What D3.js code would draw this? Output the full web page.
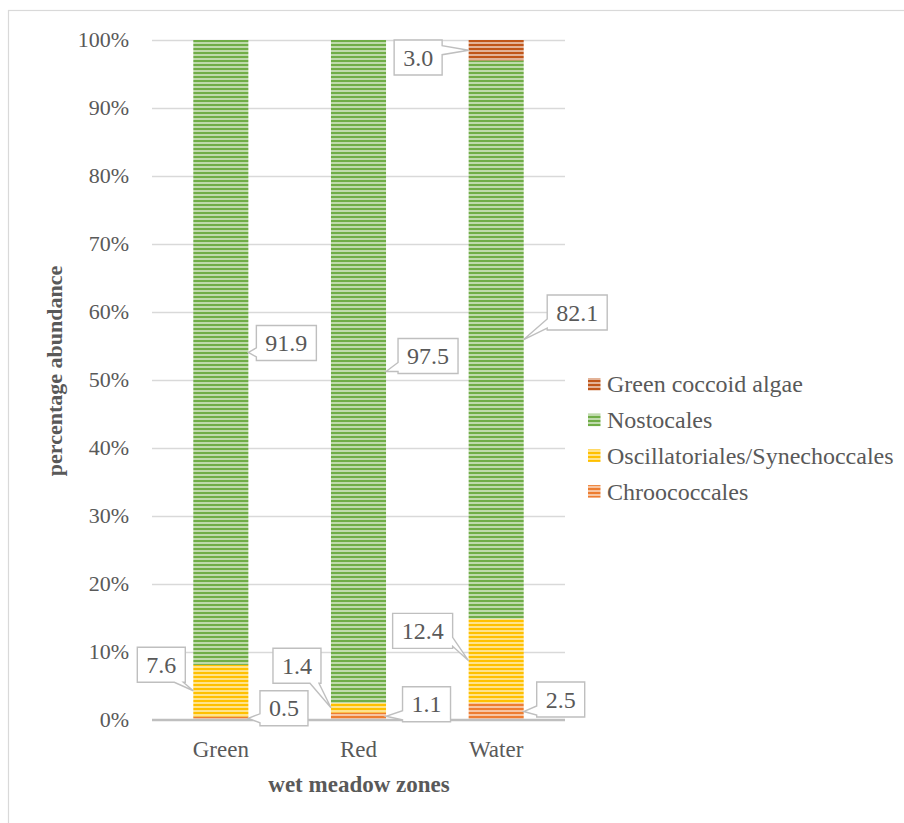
<!DOCTYPE html>
<html>
<head>
<meta charset="utf-8">
<script src="https://cdn.jsdelivr.net/npm/d3@7"></script>
<style>
html,body{margin:0;padding:0;background:#fff;}
svg{display:block;}
</style>
</head>
<body>
<svg id="chart" width="904" height="823"></svg>
<script>
// ---------- data ----------
const categories = ["Green", "Red", "Water"];
const seriesNames = ["Chroococcales", "Oscillatoriales/Synechoccales", "Nostocales", "Green coccoid algae"];
const chroococcales = [0.5, 1.1, 2.5];
const oscillatoriales = [7.6, 1.4, 12.4];
const nostocales = [91.9, 97.5, 82.1];
const greenCoccoidAlgae = [0, 0, 3.0];
const yTickValues = [0, 10, 20, 30, 40, 50, 60, 70, 80, 90, 100];
const xAxisTitle = "wet meadow zones";
const yAxisTitle = "percentage abundance";

// ---------- styling / layout ----------
const seriesColors = ["#ED7D31", "#FFC000", "#70AD47", "#C0561A"];
const legendOrder = [3, 2, 1, 0];
// label callout placement: [seriesIndex, categoryIndex, side of bar, dx, dy] (box center offset from anchor)
const labelPlacement = [
  [2, 0, "right", 38, -9.5],
  [2, 1, "right", 42, -15.5],
  [2, 2, "right", 53.5, -27],
  [3, 2, "left", -50.5, 7.3],
  [1, 0, "left", -32, -26],
  [1, 1, "left", -34, -42],
  [1, 2, "left", -46, -30],
  [0, 0, "right", 35.6, -10],
  [0, 1, "right", 40.5, -12],
  [0, 2, "right", 37, -12]
];

const values = [chroococcales, oscillatoriales, nostocales, greenCoccoidAlgae];
const table = categories.map((c, i) => {
  const row = {cat: c};
  seriesNames.forEach((s, j) => row[s] = values[j][i]);
  return row;
});
const stacked = d3.stack().keys(seriesNames)(table);

const FONT = "'Liberation Serif', 'Times New Roman', Tinos, serif";
const TXT = "#595959";
const svg = d3.select("#chart");
const fs = 23;

function txt(sel) {
  return sel.style("font-family", FONT).attr("fill", TXT);
}

// outer border
svg.append("rect").attr("x", 8.5).attr("y", 10.5).attr("width", 1000).attr("height", 1000)
  .attr("fill", "none").attr("stroke", "#D9D9D9").attr("stroke-width", 1.2);

const x = d3.scaleBand().domain(categories).range([152, 565]).paddingInner(0.6).paddingOuter(0.3);
const y = d3.scaleLinear().domain([0, 100]).range([720, 40]);

// patterns
const defs = svg.append("defs");
seriesColors.forEach((col, i) => {
  const light = d3.interpolateRgb(col, "#ffffff")(0.55);
  const p = defs.append("pattern").attr("id", "pat" + i).attr("patternUnits", "userSpaceOnUse")
    .attr("width", 8).attr("height", 4);
  p.append("rect").attr("width", 8).attr("height", 4).attr("fill", light);
  p.append("rect").attr("width", 8).attr("height", 2).attr("fill", col);
});

// gridlines
svg.append("g").selectAll("line").data(yTickValues.filter(d => d > 0)).join("line")
  .attr("x1", 152).attr("x2", 565)
  .attr("y1", d => Math.round(y(d)) + 0.5).attr("y2", d => Math.round(y(d)) + 0.5)
  .attr("stroke", "#D9D9D9").attr("stroke-width", 1.3);

// y tick labels
txt(svg.append("g").selectAll("text").data(yTickValues).join("text"))
  .attr("x", 129).attr("y", d => y(d)).attr("dy", "0.34em")
  .attr("text-anchor", "end").style("font-size", "22px")
  .text(d => d + "%");

// bars
const bars = svg.append("g");
stacked.forEach((layer, i) => {
  bars.append("g").selectAll("rect").data(layer.filter(d => d[1] - d[0] > 0)).join("rect")
    .attr("x", d => x(d.data.cat)).attr("width", x.bandwidth())
    .attr("y", d => y(d[1])).attr("height", d => y(d[0]) - y(d[1]))
    .attr("fill", "url(#pat" + i + ")");
});

// x axis line
svg.append("line").attr("x1", 152).attr("x2", 565).attr("y1", y(0)).attr("y2", y(0))
  .attr("stroke", "#BFBFBF").attr("stroke-width", 2.5);

// x category labels
txt(svg.append("g").selectAll("text").data(categories).join("text"))
  .attr("x", d => x(d) + x.bandwidth() / 2).attr("y", 757)
  .attr("text-anchor", "middle").style("font-size", fs + "px").text(d => d);

// axis titles
txt(svg.append("text")).attr("x", 359).attr("y", 792).attr("text-anchor", "middle")
  .style("font-size", "23px").style("font-weight", "bold").text(xAxisTitle);
txt(svg.append("text")).attr("transform", "translate(62,371) rotate(-90)").attr("text-anchor", "middle")
  .style("font-size", "22px").style("font-weight", "bold").text(yAxisTitle);

// callouts
function calloutPath(bx, by, w, h, tx, ty) {
  const x0 = bx, x1 = bx + w, y0 = by, y1 = by + h;
  let side;
  if (ty >= y0 && ty <= y1) side = tx < x0 ? "left" : "right";
  else if (tx >= x0 && tx <= x1) side = ty < y0 ? "top" : "bottom";
  else {
    const ddx = tx < x0 ? x0 - tx : tx - x1;
    const ddy = ty < y0 ? y0 - ty : ty - y1;
    side = ddx >= ddy ? (tx < x0 ? "left" : "right") : (ty < y0 ? "top" : "bottom");
  }
  const b = 9;
  const clamp = (v, a, c) => Math.max(a, Math.min(c, v));
  let p = `M${x0},${y0}`;
  if (side === "top") { const c = clamp(tx, x0 + b / 2 + 2, x1 - b / 2 - 2); p += `L${c - b / 2},${y0}L${tx},${ty}L${c + b / 2},${y0}`; }
  p += `L${x1},${y0}`;
  if (side === "right") { const c = clamp(ty, y0 + b / 2 + 2, y1 - b / 2 - 2); p += `L${x1},${c - b / 2}L${tx},${ty}L${x1},${c + b / 2}`; }
  p += `L${x1},${y1}`;
  if (side === "bottom") { const c = clamp(tx, x0 + b / 2 + 2, x1 - b / 2 - 2); p += `L${c + b / 2},${y1}L${tx},${ty}L${c - b / 2},${y1}`; }
  p += `L${x0},${y1}`;
  if (side === "left") { const c = clamp(ty, y0 + b / 2 + 2, y1 - b / 2 - 2); p += `L${x0},${c + b / 2}L${tx},${ty}L${x0},${c - b / 2}`; }
  return p + "Z";
}

const callouts = svg.append("g");
labelPlacement.forEach(([si, ci, side, dx, dy]) => {
  const seg = stacked[si][ci];
  const val = values[si][ci];
  const ax = side === "right" ? x(categories[ci]) + x.bandwidth() : x(categories[ci]);
  const ay = y((seg[0] + seg[1]) / 2);
  const cx = ax + dx, cy = ay + dy;
  const g = callouts.append("g");
  const path = g.append("path");
  const t = txt(g.append("text")).attr("x", cx).attr("y", cy).attr("dy", "0.34em")
    .attr("text-anchor", "middle").style("font-size", "24px").text(val.toFixed(1));
  const tw = t.node().getComputedTextLength();
  const w = tw + 18, h = 35;
  path.attr("d", calloutPath(cx - w / 2, cy - h / 2, w, h, ax, ay))
    .attr("fill", "#fff").attr("stroke", "#BFBFBF").attr("stroke-width", 1.4);
});

// legend
const legend = svg.append("g");
legendOrder.forEach((si, k) => {
  const top = 378 + k * 35.7;
  legend.append("rect").attr("x", 588).attr("y", top).attr("width", 12.5).attr("height", 12.5)
    .attr("fill", "url(#pat" + si + ")");
  txt(legend.append("text")).attr("x", 607).attr("y", top + 6.25).attr("dy", "0.34em")
    .style("font-size", "24px").text(seriesNames[si]);
});
</script>
</body>
</html>
